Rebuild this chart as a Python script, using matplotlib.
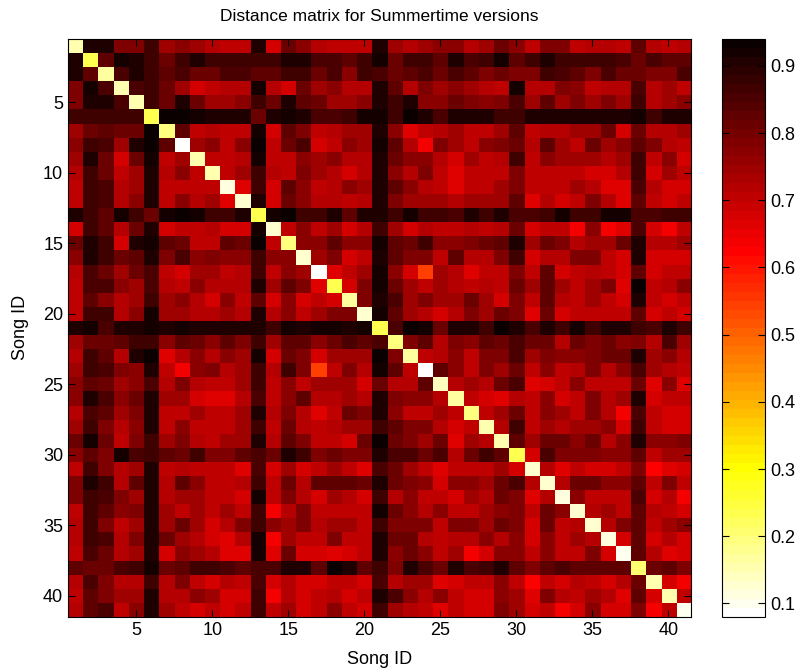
import numpy as np
import matplotlib.pyplot as plt
from matplotlib.colors import ListedColormap

plt.rcParams['font.family'] = ['Liberation Sans', 'DejaVu Sans']

n_songs = 41
tick_ids = [5, 10, 15, 20, 25, 30, 35, 40]
cbar_ticks = [0.1, 0.2, 0.3, 0.4, 0.5, 0.6, 0.7, 0.8, 0.9]

# self-distance of each song (diagonal), in hundredths
diag_pct = [16, 24, 17, 16, 16, 24, 19, 8, 16, 16, 12, 13, 24, 13, 19, 13, 8, 23, 17, 13, 23,
            19, 17, 8, 14, 17, 20, 15, 16, 23, 13, 13, 11, 13, 13, 11, 10, 21, 16, 15, 10]

# upper triangle, row i holds columns i+1..41, in hundredths (matrix is symmetric)
upper_pct = [
    [90, 90, 79, 79, 87, 75, 77, 75, 72, 70, 70, 90, 68, 81, 77, 72, 70, 70, 70, 90, 75, 72, 75, 77, 77, 72, 75, 81, 77, 70, 79, 79, 70, 72, 72, 70, 83, 72, 70, 72],
    [83, 92, 90, 87, 81, 87, 90, 87, 87, 87, 87, 87, 90, 90, 85, 85, 83, 87, 92, 81, 87, 87, 83, 90, 85, 87, 92, 83, 87, 90, 87, 87, 87, 87, 85, 81, 85, 83, 83],
    [85, 90, 87, 83, 85, 81, 81, 85, 85, 83, 83, 87, 87, 81, 85, 77, 87, 85, 81, 83, 85, 81, 85, 83, 79, 81, 79, 79, 87, 85, 83, 79, 85, 81, 81, 79, 79, 85],
    [85, 87, 81, 75, 68, 70, 72, 72, 92, 72, 68, 81, 75, 77, 72, 72, 90, 83, 72, 79, 75, 77, 75, 72, 70, 92, 72, 72, 79, 77, 70, 72, 72, 85, 72, 75, 70],
    [87, 81, 90, 81, 75, 75, 77, 87, 81, 90, 83, 81, 75, 75, 77, 90, 87, 90, 77, 77, 81, 79, 77, 79, 85, 75, 83, 75, 79, 75, 79, 75, 87, 72, 75, 77],
    [93, 93, 92, 90, 90, 90, 81, 90, 92, 90, 85, 85, 87, 92, 92, 87, 93, 90, 85, 90, 90, 90, 87, 87, 90, 90, 90, 90, 90, 90, 90, 92, 87, 90, 90],
    [83, 70, 72, 70, 70, 92, 68, 83, 79, 70, 72, 75, 75, 90, 77, 66, 70, 72, 75, 70, 70, 75, 83, 70, 72, 72, 75, 75, 81, 68, 81, 72, 72, 75],
    [75, 77, 70, 77, 93, 70, 81, 85, 68, 70, 77, 75, 92, 83, 72, 64, 79, 75, 70, 77, 79, 81, 72, 83, 75, 70, 81, 75, 77, 83, 79, 72, 70],
    [70, 70, 72, 92, 70, 70, 77, 75, 77, 72, 72, 90, 81, 77, 77, 72, 68, 75, 70, 72, 87, 70, 77, 75, 75, 75, 72, 75, 87, 70, 77, 68],
    [70, 75, 87, 72, 70, 79, 75, 72, 68, 72, 90, 77, 72, 79, 70, 66, 70, 70, 70, 79, 70, 70, 70, 70, 68, 68, 72, 87, 68, 75, 70],
    [66, 87, 68, 83, 77, 70, 72, 77, 75, 90, 83, 77, 72, 70, 66, 70, 70, 75, 79, 70, 70, 70, 75, 72, 66, 66, 85, 72, 68, 68],
    [90, 68, 81, 77, 72, 72, 70, 72, 90, 79, 75, 75, 75, 72, 75, 75, 75, 83, 66, 72, 68, 70, 79, 72, 66, 83, 70, 68, 70],
    [92, 94, 87, 87, 90, 83, 90, 90, 87, 92, 87, 87, 85, 90, 87, 90, 85, 85, 87, 92, 87, 87, 92, 92, 85, 85, 87, 87],
    [70, 77, 70, 75, 68, 72, 87, 75, 68, 72, 70, 70, 72, 70, 72, 81, 68, 70, 70, 64, 77, 64, 66, 85, 68, 64, 70],
    [77, 77, 83, 77, 77, 92, 83, 81, 87, 77, 77, 79, 81, 83, 90, 75, 81, 79, 72, 75, 75, 81, 90, 72, 72, 75],
    [75, 79, 68, 70, 90, 83, 79, 79, 70, 83, 72, 72, 79, 87, 68, 72, 72, 79, 79, 70, 68, 90, 68, 68, 68],
    [66, 70, 75, 92, 77, 68, 55, 75, 72, 66, 70, 70, 79, 70, 83, 68, 70, 72, 70, 68, 83, 68, 70, 70],
    [68, 79, 92, 81, 75, 70, 75, 72, 70, 72, 70, 81, 75, 83, 75, 70, 75, 79, 66, 93, 70, 72, 77],
    [79, 90, 85, 75, 79, 75, 75, 81, 75, 68, 79, 70, 83, 72, 70, 75, 70, 68, 90, 70, 68, 70],
    [92, 83, 75, 72, 68, 72, 79, 75, 81, 79, 66, 81, 68, 70, 70, 70, 70, 83, 68, 70, 68],
    [85, 93, 92, 81, 90, 90, 87, 93, 90, 85, 90, 87, 92, 87, 90, 90, 87, 85, 90, 87],
    [79, 83, 72, 79, 77, 83, 81, 85, 81, 81, 72, 81, 79, 81, 77, 79, 72, 85, 75],
    [70, 72, 77, 70, 79, 79, 85, 75, 79, 77, 77, 79, 81, 81, 90, 75, 77, 72],
    [83, 77, 70, 79, 75, 81, 70, 77, 70, 72, 79, 72, 77, 85, 75, 72, 70],
    [72, 75, 72, 81, 85, 66, 68, 70, 77, 70, 70, 70, 81, 66, 77, 66],
    [70, 68, 66, 72, 70, 77, 68, 70, 79, 72, 75, 90, 68, 70, 70],
    [70, 75, 81, 70, 77, 75, 70, 79, 72, 64, 85, 70, 68, 68],
    [72, 87, 70, 75, 72, 75, 75, 77, 68, 87, 70, 68, 68],
    [83, 75, 81, 81, 77, 81, 72, 77, 90, 77, 77, 79],
    [68, 85, 79, 79, 79, 77, 77, 83, 70, 75, 75],
    [72, 66, 70, 68, 68, 70, 79, 62, 66, 68],
    [72, 81, 81, 77, 77, 83, 70, 79, 70],
    [77, 70, 70, 70, 85, 68, 72, 64],
    [72, 75, 70, 83, 72, 70, 68],
    [72, 79, 83, 70, 75, 77],
    [68, 83, 68, 72, 68],
    [83, 72, 66, 68],
    [81, 83, 79],
    [68, 64],
    [70],
]

dist = np.zeros((n_songs, n_songs))
for i, row in enumerate(upper_pct):
    dist[i, i + 1:] = row
dist = dist + dist.T
dist[np.diag_indices(n_songs)] = diag_pct
dist = dist / 100.0

# MATLAB-style 64 level "hot", flipped
m = 64
k = 24
r = np.concatenate([np.arange(1, k + 1) / k, np.ones(m - k)])
g = np.concatenate([np.zeros(k), np.arange(1, k + 1) / k, np.ones(m - 2 * k)])
b = np.concatenate([np.zeros(2 * k), np.arange(1, m - 2 * k + 1) / (m - 2 * k)])
cmap = ListedColormap(np.column_stack([r, g, b])[::-1])

fig = plt.figure(figsize=(8, 6.72), dpi=100)
ax = fig.add_axes([0.085, 0.082, 0.779, 0.860])
im = ax.imshow(dist, cmap=cmap, aspect='auto', interpolation='nearest',
               extent=(0.5, n_songs + 0.5, n_songs + 0.5, 0.5))
ax.set_xticks(tick_ids)
ax.set_yticks(tick_ids)
ax.tick_params(direction='in', top=True, right=True, length=5, labelsize=13, width=0.8)
ax.set_xlabel('Song ID', fontsize=13, labelpad=9)
ax.set_ylabel('Song ID', fontsize=13, labelpad=10)
ax.set_title('Distance matrix for Summertime versions', fontsize=12.5, pad=13)

cax = fig.add_axes([0.9025, 0.082, 0.054, 0.860])
cb = fig.colorbar(im, cax=cax, ticks=cbar_ticks, format='%.1f')
cax.tick_params(direction='in', left=True, right=True, length=5, labelsize=13, width=0.8)

fig.savefig('out.png', dpi=100)
